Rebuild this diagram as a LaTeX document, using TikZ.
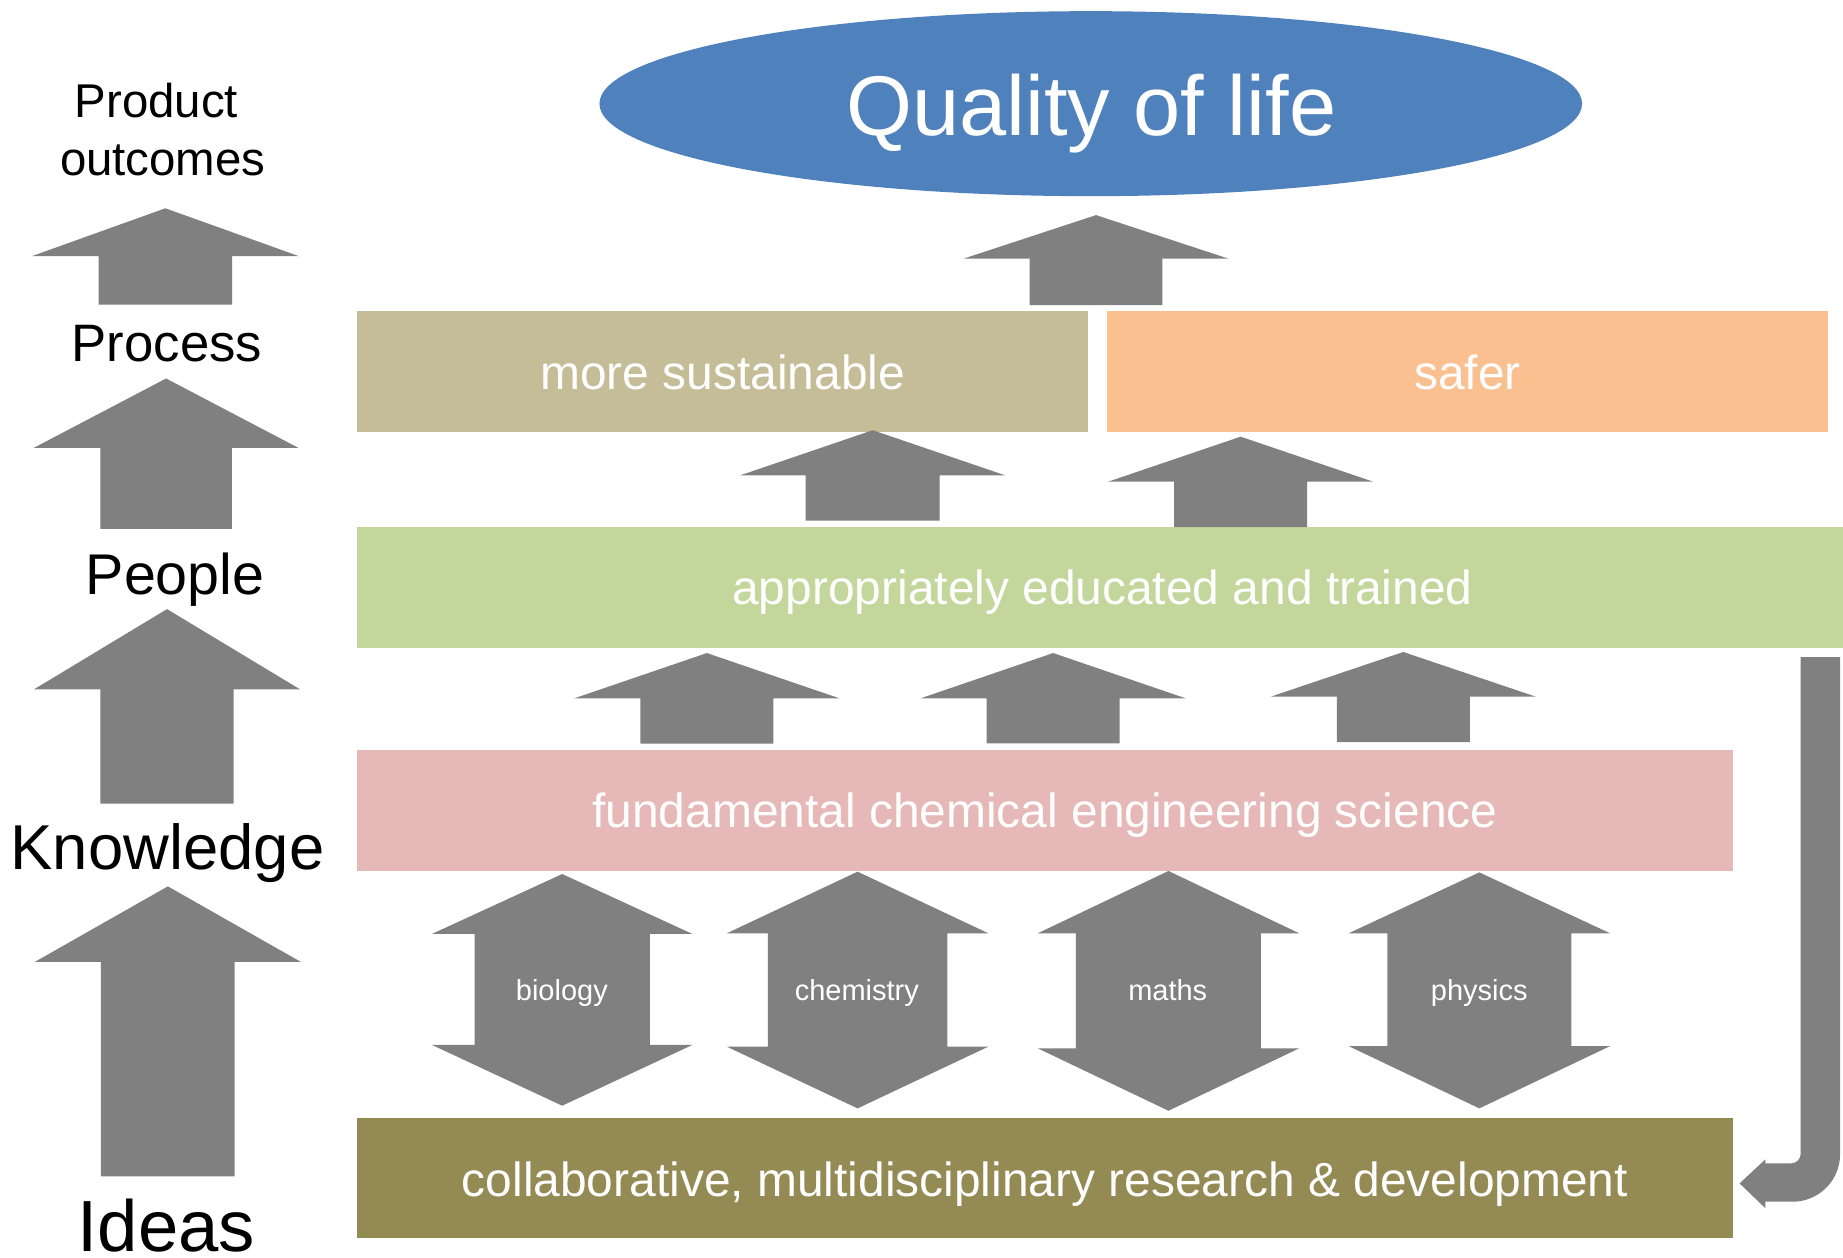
\documentclass[tikz,border=0pt]{standalone}
\usepackage{fontspec}
\setmainfont{Liberation Sans}
\definecolor{arrowgray}{HTML}{808080}
\definecolor{qblue}{HTML}{4F81BD}
\definecolor{sustain}{HTML}{C4BD97}
\definecolor{safec}{HTML}{FAC090}
\definecolor{greenc}{HTML}{C3D69B}
\definecolor{pinkc}{HTML}{E6B9B8}
\definecolor{olivec}{HTML}{948A54}
\newcommand{\upblock}[6]{%
  \fill[arrowgray] (#1,#2) -- (#1+#5,#3) -- (#1+#6,#3) -- (#1+#6,#4) -- (#1-#6,#4) -- (#1-#6,#3) -- (#1-#5,#3) -- cycle;}
\newcommand{\dblblock}[7]{%
  \fill[arrowgray] (#1,#2) -- (#1+#6,#3) -- (#1+#7,#3) -- (#1+#7,#4) -- (#1+#6,#4) -- (#1,#5) -- (#1-#6,#4) -- (#1-#7,#4) -- (#1-#7,#3) -- (#1-#6,#3) -- cycle;}
\begin{document}
\begin{tikzpicture}[x=1.17538pt,y=-1.17538pt,
  lbl/.style={inner sep=0pt,anchor=base,text=white,font=\fontsize{47.9}{50}\selectfont},
  side/.style={inner sep=0pt,anchor=base,text=black},
  small/.style={inner sep=0pt,anchor=base,text=white,font=\fontsize{29}{31}\selectfont}]
\useasboundingbox (0,0) rectangle (1568,1069.45);
% ellipse
\fill[qblue] (928,88.2) ellipse [x radius=418, y radius=78.7];
\node[inner sep=0pt,anchor=base,text=white,font=\fontsize{84.8}{90}\selectfont] (qol) at (928.5,115) {Quality of life};
% left labels
\node[side,font=\fontsize{47.4}{50}\selectfont] (prod) at (133,99.8) {Product};
\node[side,font=\fontsize{47.4}{50}\selectfont] (outc) at (138.5,148.9) {outcomes};
\node[side,font=\fontsize{52.7}{55}\selectfont] (proc) at (142,307.7) {Process};
\node[side,font=\fontsize{57.4}{60}\selectfont] (peop) at (149,506) {People};
\node[side,font=\fontsize{63.4}{66}\selectfont] (know) at (142.5,740) {Knowledge};
\node[side,font=\fontsize{72.5}{75}\selectfont] (idea) at (141.5,1064.5) {Ideas};
% left arrows
\upblock{140.7}{177.2}{217.8}{259.2}{113.2}{56.7}
\upblock{141.3}{322}{381}{450}{112.5}{56}
\upblock{142.1}{518.2}{586.5}{683.6}{113.2}{56.7}
\upblock{142.8}{754.1}{818.4}{1000.8}{113.2}{56.9}
% boxes
\fill[sustain] (303.9,264.6) rectangle (925.7,367.3);
\fill[safec] (942,264.6) rectangle (1554.9,367.3);
\fill[greenc] (303.9,448.4) rectangle (1568,551);
\fill[pinkc] (303.9,638.1) rectangle (1474.3,740.8);
\fill[olivec] (303.9,951.5) rectangle (1474.3,1053.5);
\node[lbl] (ms) at (614.8,331.2) {more sustainable};
\node[lbl] (sf) at (1248.5,331.2) {safer};
\node[lbl] (ed) at (938,514.5) {appropriately educated and trained};
\node[lbl] (fc) at (889,704.2) {fundamental chemical engineering science};
\node[lbl] (cm) at (889,1018.3) {collaborative, multidisciplinary research \& development};
% middle arrows
\upblock{932.5}{183}{220}{259.5}{112.5}{56.5}
\upblock{742.5}{366}{404.4}{443}{112.7}{57}
\upblock{1055.5}{371.5}{409.8}{448.4}{112.7}{56.5}
\upblock{601.4}{555.6}{594.1}{632.7}{112.7}{56.6}
\upblock{896}{555.6}{594.1}{632.5}{112.7}{56.6}
\upblock{1193.9}{554.7}{592.7}{631.3}{112.7}{56.6}
% double arrows
\dblblock{478.3}{743.6}{794.6}{889}{940.7}{110.8}{74.6}
\dblblock{729.6}{741.6}{794}{890.5}{943}{111.2}{76.3}
\dblblock{994.1}{741}{794}{891.9}{945}{111.2}{78.7}
\dblblock{1258.6}{742.2}{794}{890}{943}{111.2}{78.3}
\node[small] (bio) at (478,851) {biology};
\node[small] (chem) at (729,851) {chemistry};
\node[small] (math) at (993.5,851) {maths};
\node[small] (phys) at (1258.5,851) {physics};
% curved return arrow
\fill[arrowgray] (1532,559) -- (1565.5,559) -- (1565.5,982)
  .. controls (1565.5,1004.4) and (1547.4,1022.4) .. (1525,1022.4)
  -- (1502,1022.4) -- (1502,1028) -- (1480,1006.8) -- (1502,986.3) -- (1502,989.7)
  -- (1524,989.7) .. controls (1528.5,989.7) and (1532,986) .. (1532,981.5) -- cycle;
\end{tikzpicture}
\end{document}
